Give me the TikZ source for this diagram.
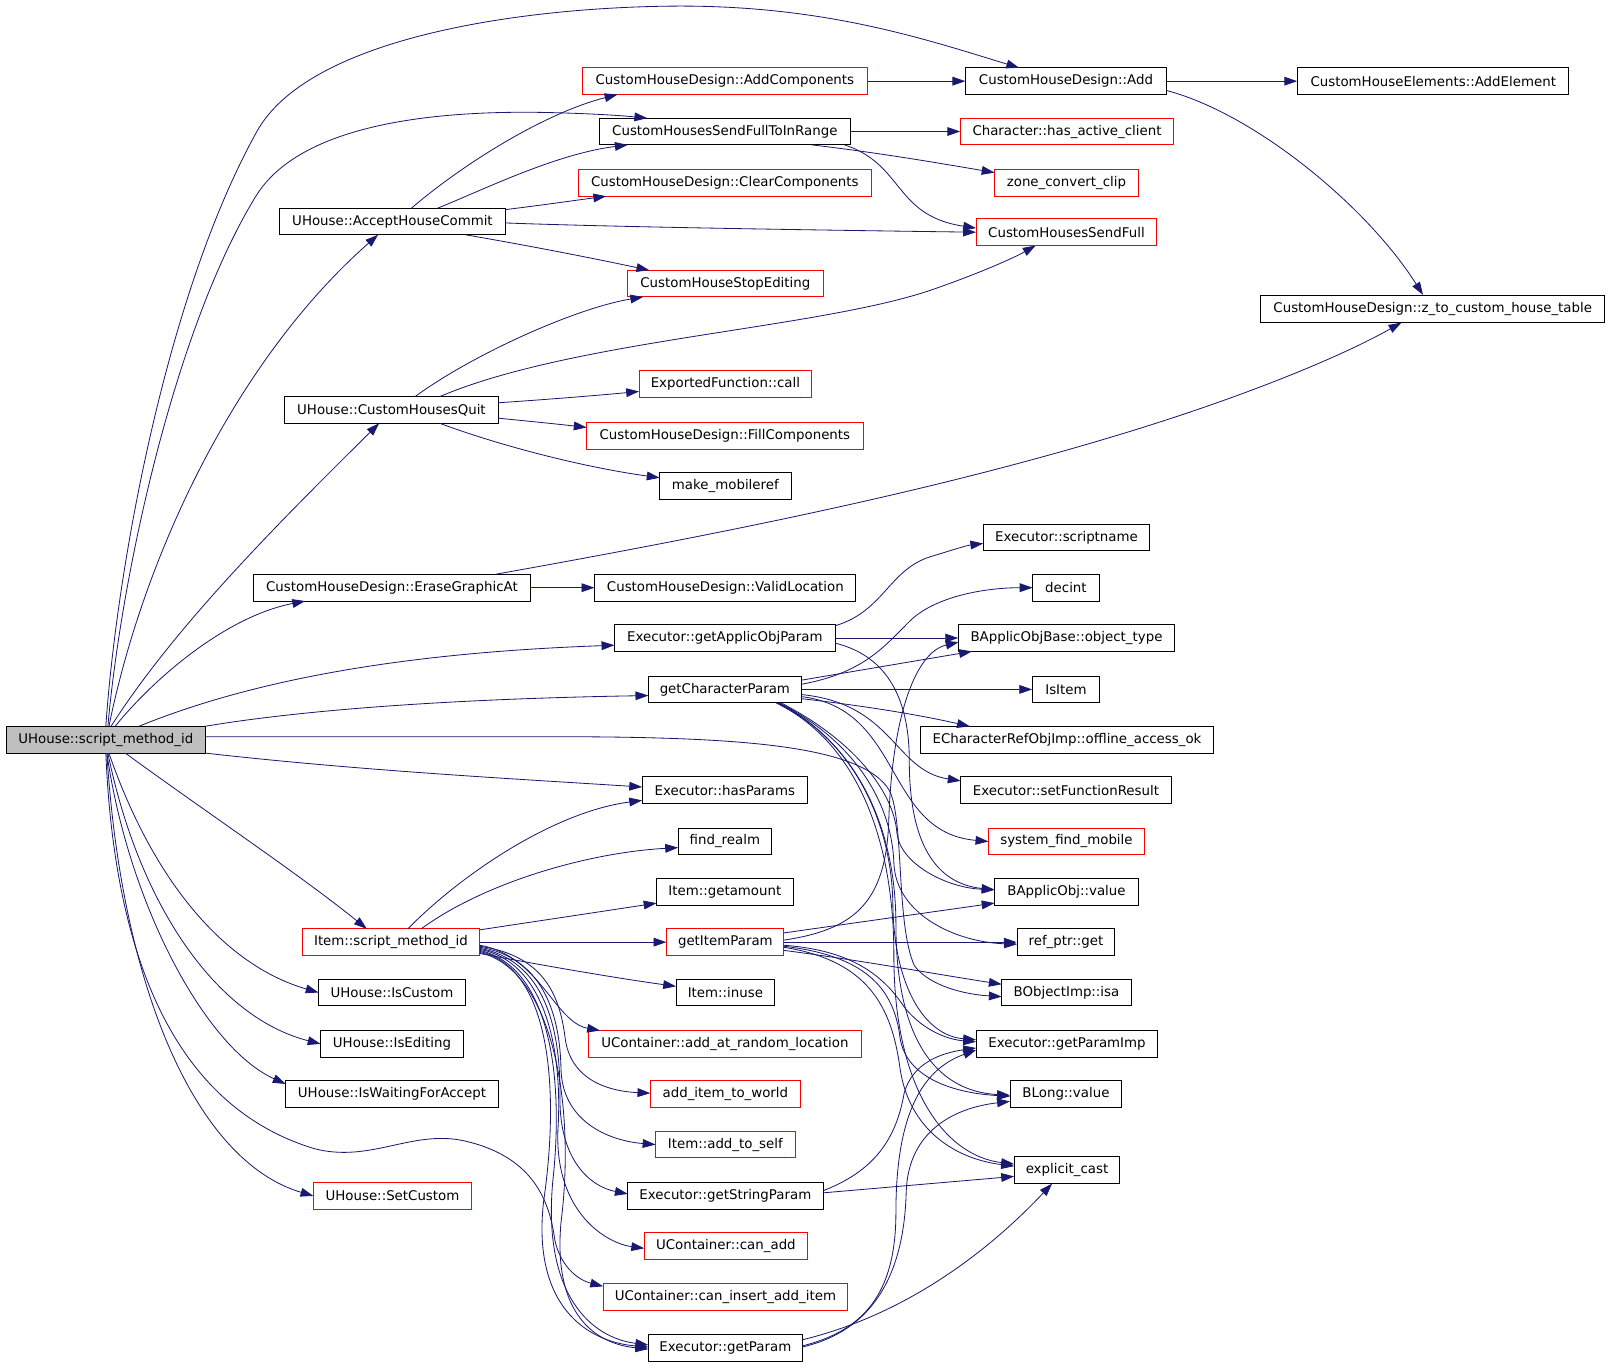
\documentclass[tikz,border=0pt]{standalone}
\usepackage{fontspec}
\setmainfont{DejaVu Sans}
\usetikzlibrary{arrows.meta,calc}
\definecolor{edgec}{HTML}{191970}
\definecolor{nodered}{HTML}{FF0000}
\definecolor{smgray}{HTML}{BFBFBF}
\tikzset{
  box/.style={draw=black, line width=0.9pt, minimum height=26pt, inner sep=0pt, fill=white,
              font=\fontsize{13pt}{15pt}\selectfont},
  rbox/.style={box, draw=nodered},
  e/.style={draw=edgec, line width=0.8pt, -{Triangle[length=12.5pt,width=8.5pt]}}
}
\begin{document}
\begin{tikzpicture}[x=1pt,y=-1pt]
\useasboundingbox (0,0) rectangle (1568,1331);
% nodes
\node[box,minimum width=194pt,fill=smgray] (sm) at (103,720) {UHouse::script\_method\_id};
\node[rbox,minimum width=277pt] (addcomp) at (705.5,79) {CustomHouseDesign::AddComponents};
\node[box,minimum width=195pt] (add) at (1037.5,79) {CustomHouseDesign::Add};
\node[box,minimum width=264pt] (addel) at (1395,79) {CustomHouseElements::AddElement};
\node[box,minimum width=245pt] (sfir) at (705.5,128) {CustomHousesSendFullToInRange};
\node[rbox,minimum width=207pt] (hac) at (1038.5,128) {Character::has\_active\_client};
\node[rbox,minimum width=285pt] (clear) at (705.5,178) {CustomHouseDesign::ClearComponents};
\node[rbox,minimum width=140pt] (zcc) at (1038,178) {zone\_convert\_clip};
\node[box,minimum width=220pt] (ahc) at (382,215.5) {UHouse::AcceptHouseCommit};
\node[rbox,minimum width=176pt] (shf) at (1038,226) {CustomHousesSendFull};
\node[rbox,minimum width=190pt] (cse) at (706,276) {CustomHouseStopEditing};
\node[box,minimum width=335pt] (z2t) at (1394.5,300.5) {CustomHouseDesign::z\_to\_custom\_house\_table};
\node[rbox,minimum width=168pt] (efc) at (706,374) {ExportedFunction::call};
\node[box,minimum width=208pt] (chq) at (381,399) {UHouse::CustomHousesQuit};
\node[rbox,minimum width=269pt] (fill) at (705.5,424) {CustomHouseDesign::FillComponents};
\node[box,minimum width=128pt] (mmr) at (706,473) {make\_mobileref};
\node[box,minimum width=162pt] (scn) at (1038,523) {Executor::scriptname};
\node[box,minimum width=269pt] (ega) at (381.5,572) {CustomHouseDesign::EraseGraphicAt};
\node[box,minimum width=254pt] (vl) at (706,572) {CustomHouseDesign::ValidLocation};
\node[box,minimum width=65pt] (dec) at (1037.5,572) {decint};
\node[box,minimum width=215pt] (gaop) at (705.5,621) {Executor::getApplicObjParam};
\node[box,minimum width=210pt] (ot) at (1038,621) {BApplicObjBase::object\_type};
\node[box,minimum width=149pt] (gcp) at (705.5,671) {getCharacterParam};
\node[box,minimum width=65pt] (isi) at (1037.5,671) {IsItem};
\node[box,minimum width=285pt] (oao) at (1038.5,720) {ECharacterRefObjImp::offline\_access\_ok};
\node[box,minimum width=161pt] (hp) at (705.5,769) {Executor::hasParams};
\node[box,minimum width=205pt] (sfr) at (1037.5,769) {Executor::setFunctionResult};
\node[box,minimum width=91pt] (fr) at (705.5,819) {find\_realm};
\node[rbox,minimum width=152pt] (sfm) at (1038,819) {system\_find\_mobile};
\node[box,minimum width=133pt] (iga) at (705.5,868) {Item::getamount};
\node[box,minimum width=140pt] (bav) at (1038,868) {BApplicObj::value};
\node[rbox,minimum width=173pt] (ism) at (380.5,917) {Item::script\_method\_id};
\node[rbox,minimum width=114pt] (gip) at (706,917) {getItemParam};
\node[box,minimum width=95pt] (rpg) at (1037.5,917) {ref\_ptr::get};
\node[box,minimum width=143pt] (isc) at (381.5,966) {UHouse::IsCustom};
\node[box,minimum width=96pt] (inu) at (706,966) {Item::inuse};
\node[box,minimum width=126pt] (isa) at (1038,966) {BObjectImp::isa};
\node[box,minimum width=139pt] (ise) at (381.5,1016) {UHouse::IsEditing};
\node[rbox,minimum width=265pt] (aarl) at (705.5,1016) {UContainer::add\_at\_random\_location};
\node[box,minimum width=177pt] (gpi) at (1038.5,1016) {Executor::getParamImp};
\node[box,minimum width=207pt] (iwa) at (381.5,1065) {UHouse::IsWaitingForAccept};
\node[rbox,minimum width=146pt] (aitw) at (706,1065) {add\_item\_to\_world};
\node[box,minimum width=109pt] (blv) at (1037.5,1065) {BLong::value};
\node[rbox,minimum width=136pt] (ats) at (706,1114) {Item::add\_to\_self};
\node[box,minimum width=103pt] (exc) at (1038.5,1139) {explicit\_cast};
\node[rbox,minimum width=154pt] (sc) at (382,1164) {UHouse::SetCustom};
\node[box,minimum width=190pt] (gsp) at (706,1164) {Executor::getStringParam};
\node[rbox,minimum width=159pt] (cad) at (706.5,1213) {UContainer::can\_add};
\node[rbox,minimum width=238pt] (ciai) at (706,1262) {UContainer::can\_insert\_add\_item};
\node[box,minimum width=150pt] (gp) at (706,1312) {Executor::getParam};

% edges from UHouse::script_method_id
\draw[e] ($(sm)+(0,-13)$) .. controls (113,560) and (160,290) .. (250,128) .. controls (300,38) and (500,8) .. (650,6) .. controls (800,4) and (900,38) .. ($(add)+(-45.5,-13)$);
\draw[e] ($(sm)+(2,-13)$) .. controls (118,560) and (170,320) .. (249,191) .. controls (295,116) and (440,106) .. (550,110) .. controls (585,111) and (610,113) .. ($(sfir)+(-75.5,-13)$);
\draw[e] ($(sm)+(3,-13)$) .. controls (140,540) and (230,350) .. ($(ahc)+(-14,13)$);
\draw[e] ($(sm)+(5,-13)$) .. controls (170,610) and (270,510) .. ($(chq)+(-12,13)$);
\draw[e] ($(sm)+(9,-13)$) .. controls (150,660) and (220,600) .. ($(ega)+(-84.5,13)$);
\draw[e] ($(sm)+(32,-13)$) .. controls (250,660) and (400,635) .. ($(gaop)+(-107.5,7)$);
\draw[e] ($(sm)+(96,-13)$) .. controls (300,690) and (450,680) .. ($(gcp)+(-74.5,6)$);
\draw[e] ($(sm)+(97,-3)$) -- (534,717) .. controls (720,717) and (840,725) .. (866,770) .. controls (880,800) and (872,900) .. (890,940) .. controls (905,960) and (940,968) .. ($(isa)+(-63,4)$);
\draw[e] ($(sm)+(97,13)$) .. controls (350,750) and (500,758) .. ($(hp)+(-80.5,-3)$);
\draw[e] ($(sm)+(19,13)$) .. controls (200,790) and (290,850) .. ($(ism)+(-23.5,-13)$);
\draw[e] ($(sm)+(3,13)$) .. controls (150,860) and (220,940) .. ($(isc)+(-71.5,0)$);
\draw[e] ($(sm)+(2,13)$) .. controls (135,880) and (210,990) .. ($(ise)+(-69.5,0)$);
\draw[e] ($(sm)+(1,13)$) .. controls (125,880) and (200,1020) .. ($(iwa)+(-103.5,-10)$);
\draw[e] ($(sm)+(1,13)$) .. controls (118,960) and (190,1130) .. ($(sc)+(-77,0)$);
\draw[e] ($(sm)+(0,13)$) .. controls (112,950) and (180,1080) .. (306,1118) .. controls (360,1132) and (400,1100) .. (450,1110) .. controls (520,1125) and (535,1170) .. (540,1207) .. controls (545,1230) and (560,1245) .. ($(ciai)+(-119,-10)$);

% AcceptHouseCommit
\draw[e] ($(ahc)+(18,-12.5)$) .. controls (450,160) and (530,110) .. ($(addcomp)+(-104.5,13)$);
\draw[e] ($(ahc)+(43,-12.5)$) .. controls (470,185) and (540,150) .. ($(sfir)+(-94.5,13)$);
\draw[e] ($(ahc)+(110,-11.5)$) .. controls (525,200) and (560,195) .. ($(clear)+(-115.5,13)$);
\draw[e] ($(ahc)+(110,1.5)$) .. controls (600,221) and (800,224) .. ($(shf)+(-88,0)$);
\draw[e] ($(ahc)+(71,13)$) .. controls (520,240) and (580,252) .. ($(cse)+(-74,-13)$);

% top right
\draw[e] (addcomp.east) -- (add.west);
\draw[e] (add.east) -- (addel.west);
\draw[e] ($(add)+(97.5,9)$) .. controls (1220,110) and (1330,200) .. ($(z2t)+(-9.5,-13.5)$);
\draw[e] (sfir.east) -- (hac.west);
\draw[e] ($(sfir)+(84.5,13)$) .. controls (850,148) and (910,158) .. ($(zcc)+(-70,-10)$);
\draw[e] ($(sfir)+(116.5,13)$) .. controls (880,160) and (870,210) .. ($(shf)+(-88,-4)$);

% CustomHousesQuit
\draw[e] ($(chq)+(23,-13)$) .. controls (460,345) and (560,300) .. ($(cse)+(-80,13)$);
\draw[e] ($(chq)+(47,-13)$) .. controls (560,330) and (800,320) .. (910,281) .. controls (950,267) and (985,252) .. ($(shf)+(-30,13)$);
\draw[e] ($(chq)+(104,-7)$) .. controls (530,389) and (580,385) .. ($(efc)+(-84,7)$);
\draw[e] ($(chq)+(104,8)$) .. controls (515,410) and (545,413) .. ($(fill)+(-134.5,-8)$);
\draw[e] ($(chq)+(47,13)$) .. controls (490,435) and (570,455) .. ($(mmr)+(-64,-8)$);

% EraseGraphicAt
\draw[e] (ega.east) -- (vl.west);
\draw[e] ($(ega)+(100.5,-13)$) .. controls (700,520) and (900,480) .. (1083,425) .. controls (1200,390) and (1300,350) .. ($(z2t)+(-30.5,13.5)$);

% getApplicObjParam
\draw[e] ($(gaop)+(107.5,-12)$) .. controls (860,595) and (865,555) .. (905,542) .. controls (925,536) and (940,531) .. ($(scn)+(-81,6)$);
\draw[e] (gaop.east) -- (ot.west);
\draw[e] ($(gaop)+(107.5,5)$) .. controls (870,640) and (885,690) .. (885,740) .. controls (885,820) and (910,860) .. ($(bav)+(-70,-2)$);

% getCharacterParam
\draw[e] ($(gcp)+(74.5,-5)$) .. controls (840,655) and (860,630) .. (885,605) .. controls (910,580) and (960,572) .. ($(dec)+(-32.5,0)$);
\draw[e] ($(gcp)+(74.5,-9)$) -- ($(ot)+(-92,13)$);
\draw[e] (gcp.east) -- (isi.west);
\draw[e] ($(gcp)+(74.5,9)$) .. controls (850,688) and (900,697) .. ($(oao)+(-94.5,-13)$);
\draw[e] ($(gcp)+(74.5,5)$) .. controls (870,685) and (870,750) .. ($(sfr)+(-102.5,-9)$);
\draw[e] ($(gcp)+(74.5,7)$) .. controls (880,690) and (860,810) .. ($(sfm)+(-76,0)$);
\draw[e] ($(gcp)+(54.5,13)$) .. controls (830,720) and (870,770) .. (873,811) .. controls (876,840) and (920,864) .. ($(bav)+(-70,-2)$);
\draw[e] ($(gcp)+(52.5,13)$) .. controls (830,720) and (868,780) .. (870,840) .. controls (872,890) and (930,917) .. ($(rpg)+(-47.5,2)$);
\draw[e] ($(gcp)+(51.5,13)$) .. controls (830,720) and (868,800) .. (869,880) .. controls (870,960) and (900,1008) .. ($(gpi)+(-88.5,-4)$);
\draw[e] ($(gcp)+(50.5,13)$) .. controls (830,720) and (872,800) .. (872,900) .. controls (872,1010) and (910,1062) .. ($(blv)+(-54.5,1)$);
\draw[e] ($(gcp)+(49.5,13)$) .. controls (830,720) and (870,810) .. (870,930) .. controls (870,1060) and (920,1125) .. ($(exc)+(-51.5,-6)$);

% Item::script_method_id
\draw[e] ($(ism)+(16.5,-13)$) .. controls (450,850) and (540,790) .. ($(hp)+(-80.5,10)$);
\draw[e] ($(ism)+(29.5,-13)$) .. controls (470,860) and (570,830) .. ($(fr)+(-45.5,6)$);
\draw[e] ($(ism)+(86.5,-12)$) .. controls (520,897) and (580,888) .. ($(iga)+(-66.5,11)$);
\draw[e] (ism.east) -- (gip.west);
\draw[e] ($(ism)+(86.5,11)$) .. controls (530,940) and (600,952) .. ($(inu)+(-48,-6)$);
\draw[e] ($(ism)+(86.5,3)$) .. controls (525,930) and (540,995) .. ($(aarl)+(-121.5,-13)$);
\draw[e] ($(ism)+(86.5,4)$) .. controls (530,930) and (545,970) .. (550,1010) .. controls (555,1050) and (590,1062) .. ($(aitw)+(-73,-1)$);
\draw[e] ($(ism)+(86.5,5)$) .. controls (530,932) and (545,990) .. (546,1040) .. controls (547,1090) and (590,1110) .. ($(ats)+(-68,0)$);
\draw[e] ($(ism)+(86.5,6)$) .. controls (530,935) and (546,1000) .. (545,1070) .. controls (545,1130) and (575,1155) .. ($(gsp)+(-95,-2)$);
\draw[e] ($(ism)+(86.5,7)$) .. controls (530,936) and (548,1020) .. (543,1100) .. controls (540,1180) and (590,1210) .. ($(cad)+(-79.5,2)$);
\draw[e] ($(ism)+(86.5,8)$) .. controls (532,940) and (550,1040) .. (538,1150) .. controls (528,1260) and (575,1302) .. ($(gp)+(-75,-3)$);
\draw[e] ($(ism)+(86.5,9)$) .. controls (536,942) and (545,1060) .. (529,1170) .. controls (518,1270) and (570,1306) .. ($(gp)+(-75,-1)$);
\draw[e] ($(ism)+(86.5,10)$) .. controls (540,945) and (560,1080) .. (546,1190) .. controls (538,1280) and (580,1308) .. ($(gp)+(-75,1)$);

% getItemParam
\draw[e] ($(gip)+(57,-2)$) .. controls (830,905) and (862,880) .. (865,800) .. controls (868,700) and (890,635) .. ($(ot)+(-105,4)$);
\draw[e] ($(gip)+(57,-9)$) -- ($(bav)+(-70,11)$);
\draw[e] (gip.east) -- (rpg.west);
\draw[e] ($(gip)+(57,8)$) .. controls (840,935) and (910,948) .. ($(isa)+(-63,-8)$);
\draw[e] ($(gip)+(57,3)$) .. controls (830,925) and (860,950) .. (880,980) .. controls (900,1005) and (925,1012) .. ($(gpi)+(-88.5,-2)$);
\draw[e] ($(gip)+(57,4)$) .. controls (840,930) and (870,960) .. (876,1010) .. controls (882,1050) and (930,1064) .. ($(blv)+(-54.5,2)$);
\draw[e] ($(gip)+(57,5)$) .. controls (845,935) and (868,980) .. (876,1040) .. controls (885,1100) and (930,1128) .. ($(exc)+(-51.5,-4)$);

% getStringParam
\draw[e] ($(gsp)+(95,-5)$) .. controls (850,1140) and (872,1110) .. (880,1064) .. controls (888,1035) and (915,1025) .. ($(gpi)+(-88.5,4)$);
\draw[e] ($(gsp)+(95,-3)$) -- ($(exc)+(-51.5,6)$);

% getParam
\draw[e] ($(gp)+(75,-2)$) .. controls (840,1295) and (872,1260) .. (872,1180) .. controls (872,1080) and (900,1040) .. ($(gpi)+(-88.5,6)$);
\draw[e] ($(gp)+(75,-1)$) .. controls (850,1295) and (880,1240) .. (882,1160) .. controls (884,1100) and (930,1078) .. ($(blv)+(-54.5,7)$);
\draw[e] ($(gp)+(75,-8)$) .. controls (880,1280) and (960,1220) .. ($(exc)+(-14.5,13)$);
\end{tikzpicture}
\end{document}
